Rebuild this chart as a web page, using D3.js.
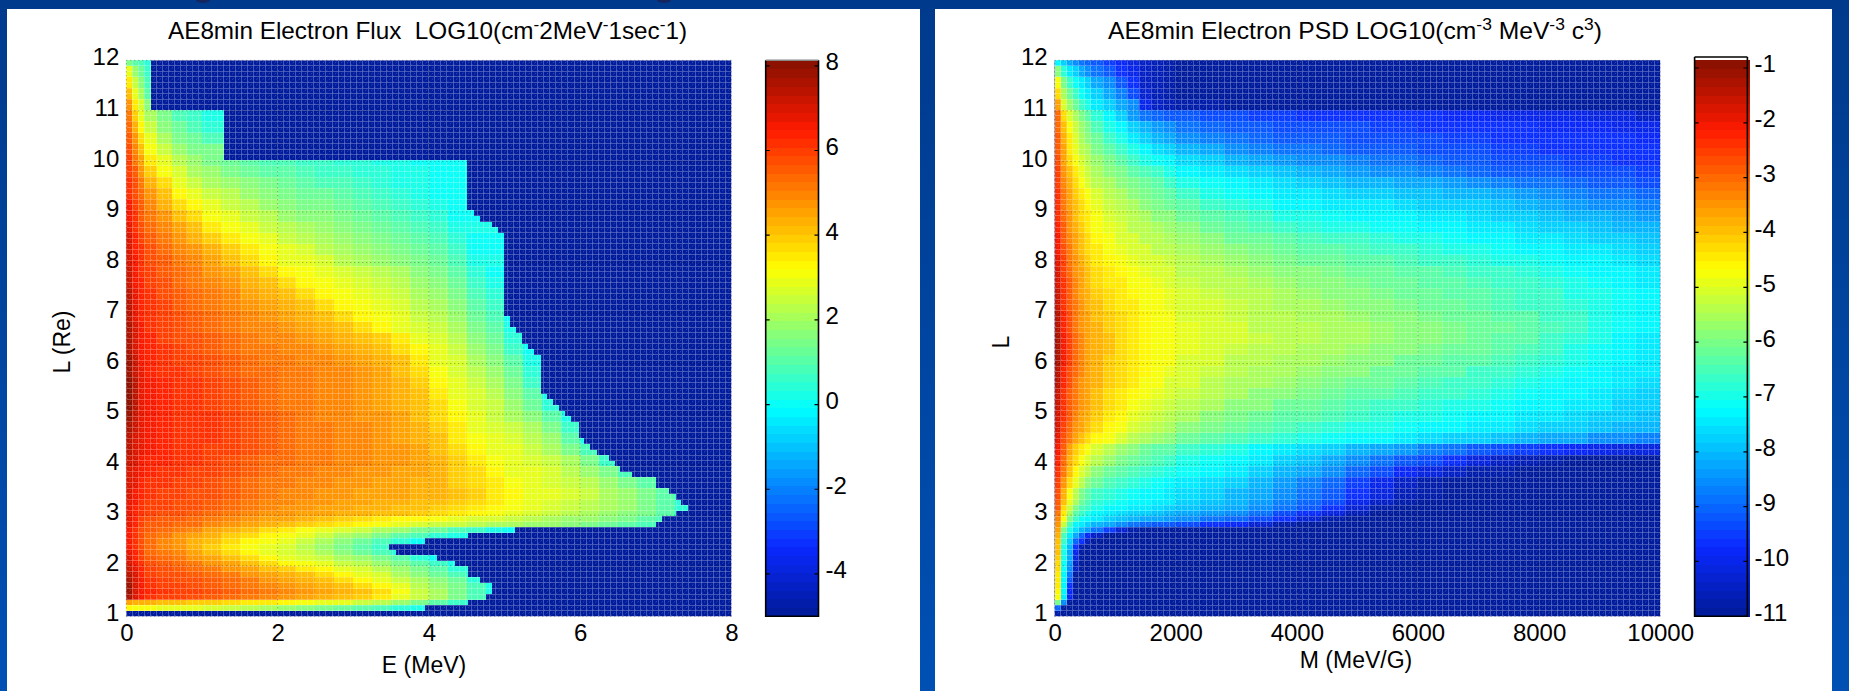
<!DOCTYPE html>
<html>
<head>
<meta charset="utf-8">
<title>AE8min electron flux and PSD</title>
<script src="https://cdn.jsdelivr.net/npm/d3@7"></script>
<style>
html, body { margin: 0; padding: 0; background: #0045a0; overflow: hidden; }
text { font-family: "Liberation Sans", Arial, sans-serif; fill: #000; }
</style>
</head>
<body>
<div id="root"></div>
<script>
// row edges in L, shared by both panels (fine below 3.3, coarser above)
const rowL = [1,1.11,1.22,1.33,1.44,1.55,1.66,1.77,1.88,1.99,2.1,2.21,2.32,2.43,2.54,2.65,2.76,2.87,2.98,3.09,3.2,3.31,
  3.53,3.75,3.97,4.19,4.41,4.63,4.85,5.07,5.29,5.51,5.73,5.95,6.17,6.39,6.61,6.83,7.05,7.27,7.49,7.71,7.93,8.15,8.37,8.59,8.81,
  9.03,9.25,9.47,9.69,9.91,10.13,10.35,10.57,10.79,11.01,11.23,11.45,11.67,11.89,12]

// left panel: energy column edges, MeV
const fluxE = [0,.08,.16,.24,.4,.6,.8,1,1.25,1.5,1.75,2,2.25,2.5,2.75,3,3.25,3.5,3.75,4,4.25,4.5,4.75,5,5.25,5.5,5.75,6,6.25,6.5,6.75,7,7.25,7.5]

// where the flux drops to the floor, one entry per 0.11 L from L=1 upward
const fluxCutoffE = [0,3.95,4.52,4.76,4.84,4.84,4.68,4.52,4.52,4.35,4.11,3.57,3.47,3.95,4.52,5.14,7.01,7.09,7.27,7.43,7.33,7.27,7.17,7.01,7.01,6.69,6.53,6.46,6.38,6.23,6.13,6.05,5.98,5.98,5.98,5.88,5.8,5.72,5.64,5.56,5.48,5.48,5.48,5.48,5.48,5.48,5.48,5.39,5.31,5.23,5.23,5.15,5.07,5.07,
  5,5,5,5,5,5,5,5,5,5,5,5,5,5,5,4.92,4.84,4.68,4.6,4.51,4.51,4.51,4.51,4.51,4.51,4.51,4.51,4.51,1.29,1.29,1.29,1.29,1.29,1.29,1.29,1.29,1.29,.33,.33,.33,.33,.33,.33,.33,.33,.33]

// log10 flux x10, bottom row first, read left to right
const fluxRows = [
[],
[33,32,32,31,30,29,28,26,24,22,20,18,16,14,12,10,8,5,2,0],
[45,44,44,43,42,41,40,39,38,36,35,34,32,30,28,25,22,18,14,10,6,2],
[76,70,65,62,60,59,58,56,54,52,50,48,46,44,42,40,36,30,24,20,14,8,2],
[78,71,66,63,61,60,59,57,55,53,51,49,47,45,43,41,37,31,25,20,15,9,3],
[78,71,66,62,60,59,58,56,54,52,50,48,46,44,41,38,34,28,23,18,14,8,2],
[76,70,65,61,59,58,57,55,53,51,48,46,44,42,38,34,30,25,20,16,12,5],
[75,69,64,60,58,57,55,53,51,48,45,43,41,38,34,30,26,21,17,13,9,3],
[73,67,63,59,57,55,53,51,48,45,42,39,36,33,30,26,22,18,14,10,5],
[71,65,61,58,55,53,51,48,45,41,37,34,31,28,25,22,18,14,10,6,2],
[69,64,60,56,53,51,48,45,41,37,33,30,27,24,21,18,14,10,5,1],
[67,63,59,54,51,49,46,42,38,34,30,27,24,21,17,13,9,4],
[65,61,57,53,50,47,44,40,36,32,29,26,22,19,15,11,7,2],
[65,61,57,53,50,47,44,41,37,34,31,28,24,21,17,13,9,5,1],
[65,61,57,53,51,48,46,43,40,37,34,31,28,25,21,18,14,11,8,5,2],
[65,61,58,55,53,51,49,46,44,41,38,35,32,30,27,24,21,18,15,12,9,6,3,1],
[67,63,59,56,55,54,53,50,47,45,43,41,39,37,35,33,31,29,27,25,24,22,21,20,19,18,16,15,13,11,8,3],
[67,63,60,57,56,55,54,52,50,48,46,45,43,42,40,38,36,34,33,31,29,27,26,24,22,21,19,18,16,14,11,8,2],
[67,63,61,59,58,57,56,54,52,50,48,47,46,45,44,43,42,41,40,38,36,34,32,30,27,25,23,21,19,17,14,10,4],
[68,64,62,60,59,58,57,55,53,51,49,48,47,46,45,44,43,42,41,39,37,35,33,31,28,26,24,22,20,18,15,11,5],
[68,65,62,60,59,58,57,56,54,52,50,49,48,47,46,45,44,43,42,41,39,37,35,32,29,27,25,23,21,18,15,11,5],
[69,66,63,61,60,59,58,57,55,53,51,50,49,48,47,46,46,45,44,43,41,39,36,33,30,28,26,24,21,18,15,11,5],
[70,67,64,62,61,60,59,58,56,54,52,51,50,49,48,47,46,45,44,43,40,38,35,31,29,27,25,22,19,15,10,3],
[71,68,65,63,62,61,60,59,57,55,53,52,51,50,49,48,47,46,45,43,40,37,33,30,28,26,23,19,15,8,2],
[73,69,66,64,63,62,61,60,58,56,54,53,52,51,50,49,48,47,45,43,40,35,31,29,27,24,20,14,6,1],
[74,70,67,65,63,62,61,60,59,57,55,53,52,51,50,49,48,47,45,42,38,33,30,28,25,21,15,8,1],
[75,71,67,65,63,62,61,61,60,58,55,53,52,51,50,49,48,46,44,41,36,31,28,26,23,18,11,3],
[76,72,68,65,63,62,62,61,59,57,55,53,52,51,50,49,47,45,43,39,35,29,27,24,20,15,7],
[78,73,68,65,63,62,61,61,59,57,55,53,51,50,49,48,47,45,42,38,33,28,25,21,17,11,3],
[80,74,68,65,63,62,61,60,58,56,54,52,51,50,49,48,46,44,41,37,32,27,24,19,13,5],
[80,74,68,65,63,62,61,60,58,56,54,52,51,50,49,48,46,44,41,36,30,26,22,17,10,3],
[80,74,67,65,63,62,61,59,57,55,53,52,51,50,49,47,45,43,40,34,29,25,21,14,7,1],
[79,73,67,64,62,61,60,58,56,54,53,52,51,50,49,47,45,42,38,32,27,23,18,12,5],
[78,72,66,64,62,60,59,57,55,53,52,51,50,49,48,46,44,41,36,30,26,21,16,10,3],
[77,71,66,63,61,59,58,56,54,52,51,50,49,48,46,44,42,38,33,28,24,19,14,7,1],
[77,70,65,63,60,58,57,55,53,51,50,49,48,46,44,42,39,35,30,26,22,17,12,5],
[76,69,65,62,60,58,56,54,52,50,49,47,46,44,41,38,34,30,27,24,20,15,10,3],
[75,68,64,62,59,57,55,53,51,49,48,46,44,41,38,34,31,28,25,22,18,13,8,1],
[74,67,64,61,59,56,54,52,50,48,46,44,41,38,34,31,28,26,23,20,16,11,6],
[74,67,63,61,58,55,53,51,49,46,44,41,38,34,31,28,26,24,21,18,14,9,4],
[73,66,63,60,57,54,52,50,47,44,41,38,34,31,29,26,24,22,19,16,12,7,2],
[72,66,62,59,56,53,51,48,45,41,37,34,31,28,26,24,22,20,17,14,10,5,1],
[71,65,62,58,55,52,49,46,42,38,34,30,28,26,23,21,19,17,15,12,8,3],
[70,64,61,57,54,50,47,43,39,35,31,28,26,23,21,19,17,15,13,10,6,1],
[69,63,60,56,52,48,44,40,36,31,28,25,23,21,19,17,15,13,11,8,4,1],
[68,62,58,54,50,45,41,36,32,28,25,22,20,18,16,15,13,11,9,6,2],
[66,61,56,52,47,42,37,32,28,25,22,19,17,16,14,12,11,9,7,4,1],
[65,60,55,50,44,38,33,29,25,22,19,16,15,14,12,10,9,7,5,2,0],
[62,58,53,47,41,34,29,25,22,19,16,14,13,12,10,8,7,5,3,1],
[61,57,51,44,37,30,25,21,18,16,14,12,10,9,8,6,5,3,2,1],
[60,55,48,40,32,26,21,18,15,13,11,10,8,7,6,5,4,3,2,1],
[59,52,45,36,28,22,18,15,13,11,9,8,7,6,5,4,3,2,1,1],
[58,50,42,32,24,18,14],
[56,47,38,28,20,15,12,8],
[54,43,34,24,17,12,8,5],
[52,40,30,20,14,9,6,3],
[48,36,26,17],
[42,30,20,10],
[36,24,16,8],
[28,18,12,6],
[14,10,8,5]
]

// right panel: first adiabatic invariant column edges, MeV/G
const psdM = [0,100,200,300,400,500,600,800,1000,1200,1400,1600,1800,2000,2400,2800,3200,3600,4000,4400,4800,5200,5600,6000,6400,6800,7200,7600,8000,8400,8800,9200,9600,10000]

// -log10 PSD x10, bottom row first; a short row stays at psdFloor to the right
const psdFloor = 109
const psdRows = [
[108],
[90],
[60,85],
[47,74,100],
[46,73,98],
[45,73,96],
[45,73,92],
[44,72,88],
[43,71,85,105],
[42,71,84,104],
[41,70,83,102],
[40,70,82,100],
[40,69,81,96,108],
[39,67,78,90,97,106],
[38,65,75,83,90,98,104],
[37,60,70,76,80,84,88,95,103,107],
[35,52,65,72,75,77,80,83,86,88,90,91,92,94,96,98,103,107],
[33,48,60,67,71,73,75,77,79,81,82,83,84,86,88,90,94,97,103,107],
[31,45,56,63,67,70,72,74,76,77,78,79,80,82,84,86,89,93,97,102,106],
[29,42,52,60,65,67,70,72,73,74,75,76,77,79,81,83,86,89,92,96,103,107],
[28,40,49,56,62,65,68,70,71,72,73,74,75,77,79,81,84,87,90,94,99,104,107],
[27,38,47,54,60,63,66,68,70,71,72,73,74,76,78,80,83,86,89,92,97,102,106,108],
[25,35,43,49,54,58,62,65,67,68,70,71,73,75,76,78,81,84,87,90,95,99,104,107],
[23,32,40,46,50,54,58,61,63,65,66,68,69,71,73,75,77,80,83,86,90,94,98,101,105,107,108],
[22,30,38,43,47,50,54,57,60,62,64,65,67,69,71,73,75,77,79,82,85,88,91,94,97,101,104,106,108],
[21,28,36,41,45,48,51,54,57,59,61,63,64,66,68,70,72,74,76,78,80,82,84,87,89,91,93,95,97,98,100,101,102],
[19,27,32,36,39,42,46,48,51,53,55,57,59,61,63,65,66,68,69,71,72,73,74,76,77,78,79,81,82,83,85,86,87],
[18,25,30,34,37,39,43,46,48,51,52,54,56,58,60,62,64,65,66,68,69,70,71,72,73,74,75,76,77,78,79,80,81],
[17,24,29,33,36,38,41,44,46,49,50,52,54,56,58,60,61,63,64,65,67,68,69,70,71,72,73,74,75,76,77,78,79],
[16,24,29,32,35,37,40,43,45,47,49,50,52,54,56,58,59,61,62,63,65,66,67,68,69,70,71,72,73,74,75,77,78],
[15,23,28,31,34,37,39,42,44,46,47,49,51,52,54,56,58,59,60,62,63,64,65,66,67,68,70,71,72,73,74,76,77],
[14,22,27,31,34,36,38,41,43,45,47,48,50,51,53,55,56,57,59,60,61,62,63,65,66,67,68,70,71,72,73,75,76],
[14,22,27,30,33,36,38,41,43,45,46,48,49,50,52,54,55,56,57,58,59,61,62,63,64,66,67,68,70,71,72,74,75],
[13,21,26,30,33,36,38,41,43,44,46,47,48,50,51,53,54,55,56,57,58,59,61,62,63,64,65,67,68,70,71,73,75],
[13,21,26,30,33,36,38,40,42,44,46,47,48,49,50,52,53,54,55,56,57,58,59,60,61,62,64,65,67,69,71,72,74],
[13,21,26,30,33,36,38,40,42,44,46,47,48,49,50,51,52,53,54,55,56,57,58,59,60,61,63,64,66,68,70,72,74],
[14,22,27,31,34,36,38,41,43,44,46,47,48,49,50,51,53,54,54,55,56,57,58,59,60,61,62,64,65,67,69,71,73],
[14,22,27,31,34,37,39,41,43,45,46,47,48,50,51,52,53,54,55,56,57,58,59,60,61,62,63,64,66,67,69,71,73],
[15,23,28,32,35,38,40,42,44,45,47,48,49,50,51,52,54,55,56,57,58,59,60,61,62,63,65,66,67,68,70,71,73],
[16,23,28,33,36,38,41,43,45,46,47,48,49,51,52,53,54,56,57,58,59,60,61,62,63,64,65,66,67,69,70,71,73],
[17,24,29,33,36,39,42,44,45,47,48,49,50,52,53,54,56,57,58,59,60,61,62,63,64,65,66,67,68,70,71,72,74],
[18,25,30,34,37,40,43,45,46,48,49,50,51,53,54,56,57,58,59,60,61,62,63,64,65,66,67,68,69,71,72,73,75],
[19,26,31,35,38,41,44,46,47,49,50,51,52,54,56,57,58,60,61,62,63,64,65,66,67,68,69,70,71,72,73,74,76],
[20,27,32,36,39,42,45,47,49,50,51,53,54,56,57,59,60,62,63,64,65,66,67,68,69,70,71,72,73,74,75,76,77],
[21,28,33,37,40,43,46,48,50,51,53,54,55,57,59,61,62,64,65,66,67,68,69,70,71,72,73,74,75,76,77,78,79],
[22,29,34,38,41,44,47,49,51,53,54,56,57,59,61,63,65,66,68,69,70,71,71,72,73,74,75,76,77,78,79,80,81],
[23,30,35,39,42,45,48,50,52,54,56,58,59,61,63,65,67,69,70,71,72,72,73,74,75,76,77,78,79,80,81,83,84],
[24,31,36,40,43,46,49,52,54,56,58,60,61,63,66,68,70,72,73,74,75,75,76,77,77,78,79,80,82,84,85,86,87],
[24,32,37,41,45,48,51,54,56,58,60,62,64,66,69,71,73,74,75,76,77,78,79,79,80,81,83,84,85,87,88,89,90],
[25,33,38,43,47,50,53,56,58,60,62,64,67,69,71,73,75,76,77,79,80,81,82,83,84,86,87,88,89,90,91,92,93],
[26,34,40,45,49,52,55,58,60,63,65,67,70,72,74,76,78,79,81,82,84,85,86,87,88,90,91,91,92,93,94,94,95],
[27,36,42,47,51,54,57,60,63,66,69,71,73,76,78,80,82,84,85,86,87,88,89,90,91,92,93,93,94,95,95,96,96],
[28,37,44,49,53,56,60,63,66,70,73,76,78,81,83,85,87,88,89,90,91,92,92,93,94,94,95,95,96,96,96,96,97],
[29,38,45,51,55,58,62,66,70,74,77,80,82,85,87,88,90,91,92,92,93,93,94,94,95,95,96,96,96,96,97,97,98],
[30,40,47,52,57,60,65,69,73,78,81,84,86,88,90,91,92,93,93,94,94,95,95,96,96,96,97,97,98,98,98,99,100],
[30,42,50,56,60,64,68,72,78,84,88,90,91,92,93,94,95,95,96,96,96,97,97,97,98,98,99,99,100,100,101,102,104],
[36,50,57,62,66,70,74,78,82,86,100,104,106,107,108],
[42,56,62,67,71,74,78,82,87,93,103,106,108],
[47,60,66,71,75,78,82,86,91,96,104,106,108],
[58,68,74,78,82,85,88,92,96,100,104,106,108],
[72,78,82,85,88,90,92,95,98,101,104,106,108]
]

// tick labels
const lTicks = [1,2,3,4,5,6,7,8,9,10,11,12]
const eTicks = [0,2,4,6,8]
const mTicks = [0,2000,4000,6000,8000,10000]
const fluxBarTicks = [-4,-2,0,2,4,6,8]
const psdBarTicks = [-11,-10,-9,-8,-7,-6,-5,-4,-3,-2,-1]

// jet with 64 flat levels, the way the colorbars show it
const jetStops = [0,.125,.375,.625,.875,1]
const jetColors = ['#001a96','#0a28ff','#00ffff','#ffff00','#ff1a00','#851000']
const jet = d3.scaleLinear().domain(jetStops).range(jetColors)
const jetLevels = d3.range(64).map(i => jet((i + .5) / 64))

const W = 1849, H = 691
const svg = d3.select('#root').append('svg').attr('width', W).attr('height', H).style('display', 'block')

const defs = svg.append('defs')
const bg = defs.append('linearGradient').attr('id', 'bg').attr('x1', 0).attr('x2', 0).attr('y1', 0).attr('y2', 1)
bg.append('stop').attr('offset', 0).attr('stop-color', '#003a8c')
bg.append('stop').attr('offset', 1).attr('stop-color', '#0050b4')
svg.append('rect').attr('width', W).attr('height', H).attr('fill', 'url(#bg)')

// bits of the slide heading that stick into the crop
svg.selectAll('.blob').data([203, 664]).enter().append('ellipse')
  .attr('cx', d => d).attr('cy', 0).attr('rx', 7).attr('ry', 3).attr('fill', '#15255f')

// white slide panels
svg.append('rect').attr('x', 7).attr('y', 9).attr('width', 913).attr('height', H - 9).attr('fill', '#fff')
svg.append('rect').attr('x', 935).attr('y', 9).attr('width', 897).attr('height', H - 9).attr('fill', '#fff')

function drawPanel(p) {
  const x = d3.scaleLinear().domain(p.xDomain).range([p.left, p.right])
  const y = d3.scaleLinear().domain([1, 12]).range([616.3, 60.3])
  const color = d3.scaleQuantize().domain(p.barDomain).range(jetLevels)
  const g = svg.append('g')

  // floor colour under everything
  g.append('rect').attr('x', p.left).attr('y', y(12)).attr('width', p.right - p.left).attr('height', y(1) - y(12))
    .attr('fill', color(p.barDomain[0]))

  g.append('g').selectAll('rect').data(p.cells).enter().append('rect')
    .attr('shape-rendering', 'crispEdges')
    .attr('x', d => x(d.x0)).attr('width', d => x(d.x1) - x(d.x0))
    .attr('y', d => y(d.y1)).attr('height', d => y(d.y0) - y(d.y1))
    .attr('fill', d => color(d.v))

  // surface mesh showing through the picture
  const xStep = (p.xDomain[1] - p.xDomain[0]) / 100
  let mesh = '', hatch = ''
  d3.range(101).forEach(i => {
    mesh += 'M' + x(p.xDomain[0] + i * xStep) + ',' + y(1) + 'V' + y(12)
    mesh += 'M' + p.left + ',' + y(1 + i * .11) + 'H' + p.right
  })
  d3.range(100).forEach(i => d3.range(100).forEach(j => {
    hatch += 'M' + x(p.xDomain[0] + i * xStep) + ',' + y(1 + j * .11) + 'L' + x(p.xDomain[0] + (i + 1) * xStep) + ',' + y(1 + (j + 1) * .11)
  }))
  g.append('path').attr('d', mesh).attr('fill', 'none').attr('stroke', '#fff').attr('stroke-opacity', .26)
    .attr('shape-rendering', 'crispEdges')
  g.append('path').attr('d', hatch).attr('fill', 'none').attr('stroke', '#fff').attr('stroke-opacity', .2)
    .attr('stroke-dasharray', '2 2')

  // dotted grid
  g.selectAll('.gx').data(p.xTicks).enter().append('line')
    .attr('x1', d => x(d)).attr('x2', d => x(d)).attr('y1', y(1)).attr('y2', y(12))
    .attr('stroke', '#000').attr('stroke-opacity', .4).attr('stroke-dasharray', '1 3')
  g.selectAll('.gy').data(lTicks).enter().append('line')
    .attr('x1', p.left).attr('x2', p.right).attr('y1', d => y(d)).attr('y2', d => y(d))
    .attr('stroke', '#000').attr('stroke-opacity', .4).attr('stroke-dasharray', '1 3')

  // axes
  const ax = g.append('g').attr('transform', 'translate(0,616.3)')
    .call(d3.axisBottom(x).tickValues(p.xTicks).tickFormat(d3.format('d')).tickSize(0).tickPadding(8))
  const ay = g.append('g').attr('transform', 'translate(' + p.left + ',0)')
    .call(d3.axisLeft(y).tickValues(lTicks).tickFormat(d3.format('d')).tickSize(0).tickPadding(7))
  ax.select('.domain').remove()
  ay.select('.domain').remove()
  ax.selectAll('text').style('font-size', '24px').style('font-family', '"Liberation Sans"').attr('fill', '#000')
  ay.selectAll('text').style('font-size', '24px').style('font-family', '"Liberation Sans"').attr('fill', '#000')
    .attr('transform', 'translate(0,-3)')

  // labels
  g.append('text').attr('x', p.xLabelX).attr('y', p.xLabelY).attr('text-anchor', 'middle')
    .style('font-size', '23px').text(p.xLabel)
  g.append('text').attr('transform', 'translate(' + p.yLabelX + ',' + p.yLabelY + ') rotate(-90)')
    .attr('text-anchor', 'middle').style('font-size', '23px').text(p.yLabel)

  // title, with raised pieces
  const t = g.append('text').attr('x', p.titleX).attr('y', 39).style('font-size', '24px')
    .attr('textLength', p.titleW).attr('lengthAdjust', 'spacingAndGlyphs').attr('xml:space', 'preserve')
  p.title.forEach(s => {
    t.append('tspan').attr('dy', s[1] ? -9 : 9 * (s[2] ? 1 : 0)).text(s[0])
      .style('font-size', s[1] ? '17px' : '24px')
  })

  // colorbar
  const by = d3.scaleLinear().domain(p.barDomain).range([616.3, 60.3])
  const bar = svg.append('g')
  const bands = color.thresholds()
  const edges = [p.barDomain[0]].concat(bands, [p.barDomain[1]])
  bar.selectAll('rect').data(jetLevels).enter().append('rect')
    .attr('x', p.barLeft).attr('width', p.barFillW)
    .attr('y', (d, i) => by(edges[i + 1])).attr('height', (d, i) => by(edges[i]) - by(edges[i + 1]) + .5)
    .attr('fill', d => d).attr('shape-rendering', 'crispEdges')
  bar.append('path')
    .attr('d', 'M' + p.barLeft + ',' + p.barTop + 'V616.3H' + p.barRight + 'V' + p.barTop)
    .attr('fill', 'none').attr('stroke', '#000').attr('stroke-width', 1.6)
  bar.append('line').attr('x1', p.barLeft).attr('x2', p.barRight).attr('y1', p.barTop).attr('y2', p.barTop)
    .attr('stroke', p.barTopColor).attr('stroke-width', 1.6)
  bar.selectAll('.tk').data(p.barTicks).enter().append('path')
    .attr('d', d => 'M' + p.barLeft + ',' + by(d) + 'h4M' + p.barRight + ',' + by(d) + 'h-4')
    .attr('stroke', '#000').attr('stroke-width', 1.2)
  bar.selectAll('text').data(p.barTicks).enter().append('text')
    .attr('x', p.barRight + 7).attr('y', d => by(d) + 4.5).style('font-size', '24px').text(d => d)
}

// left: one mesh row at a time so the cut-off edge can step
const fluxCells = []
fluxCutoffE.forEach((cut, n) => {
  const y0 = 1 + n * .11, y1 = y0 + .11
  const vals = fluxRows[Math.max(0, d3.bisectRight(rowL, y0 + 1e-6) - 1)]
  if (!vals.length) return
  fluxE.slice(0, -1).forEach((e0, c) => {
    if (e0 >= cut) return
    fluxCells.push({x0: e0, x1: Math.min(fluxE[c + 1], cut), y0: y0, y1: y1, v: vals[Math.min(c, vals.length - 1)] / 10})
  })
})

// right: plain row by column
const psdCells = []
psdRows.forEach((vals, r) => {
  psdM.slice(0, -1).forEach((m0, c) => {
    const v = c < vals.length ? vals[c] : psdFloor
    psdCells.push({x0: m0, x1: psdM[c + 1], y0: rowL[r], y1: rowL[r + 1], v: -v / 10})
  })
})

drawPanel({
  left: 126.3, right: 731.3, xDomain: [0, 8], xTicks: eTicks, cells: fluxCells,
  barDomain: [-5, 8.13], barTicks: fluxBarTicks, barLeft: 765.7, barRight: 818.5, barFillW: 52.8, barTop: 60.3, barTopColor: '#888',
  xLabel: 'E (MeV)', xLabelX: 424, xLabelY: 673, yLabel: 'L (Re)', yLabelX: 70, yLabelY: 342,
  titleX: 168, titleW: 519,
  title: [['AE8min Electron Flux  LOG10(cm', 0], ['-', 1], ['2MeV', 0, 1], ['-', 1], ['1sec', 0, 1], ['-', 1], ['1)', 0, 1]]
})

drawPanel({
  left: 1054.6, right: 1660.2, xDomain: [0, 10000], xTicks: mTicks, cells: psdCells,
  barDomain: [-11, -.86], barTicks: psdBarTicks, barLeft: 1694.6, barRight: 1747.4, barFillW: 55, barTop: 57, barTopColor: '#000',
  xLabel: 'M (MeV/G)', xLabelX: 1356, xLabelY: 668, yLabel: 'L', yLabelX: 1009, yLabelY: 342,
  titleX: 1108, titleW: 494,
  title: [['AE8min Electron PSD LOG10(cm', 0], ['-3', 1], [' MeV', 0, 1], ['-3', 1], [' c', 0, 1], ['3', 1], [')', 0, 1]]
})
</script>
</body>
</html>
